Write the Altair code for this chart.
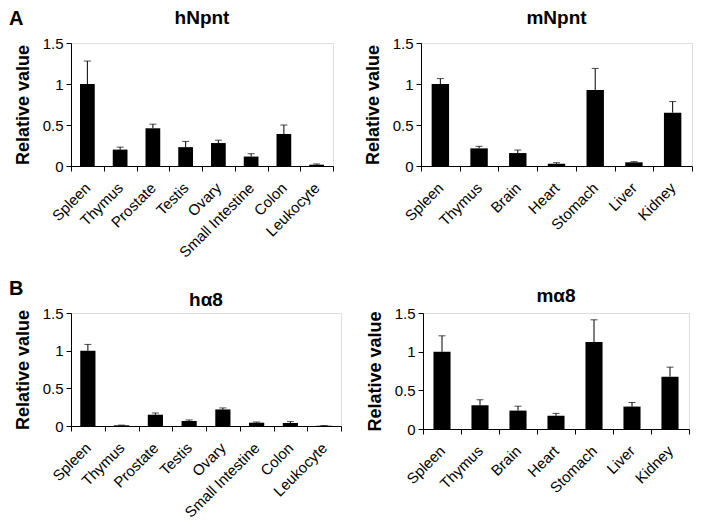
import altair as alt
import pandas as pd

FONT = "Liberation Sans"

h_tissues = ["Spleen", "Thymus", "Prostate", "Testis", "Ovary", "Small Intestine", "Colon", "Leukocyte"]
m_tissues = ["Spleen", "Thymus", "Brain", "Heart", "Stomach", "Liver", "Kidney"]

hnpnt_val = [1.0, 0.20, 0.46, 0.23, 0.28, 0.115, 0.39, 0.016]
hnpnt_up = [1.28, 0.23, 0.51, 0.30, 0.315, 0.15, 0.50, 0.025]

mnpnt_val = [1.0, 0.215, 0.158, 0.028, 0.928, 0.045, 0.65]
mnpnt_up = [1.066, 0.24, 0.195, 0.04, 1.19, 0.053, 0.786]

ha8_val = [1.0, 0.009, 0.15, 0.067, 0.22, 0.044, 0.04, 0.004]
ha8_up = [1.083, 0.012, 0.173, 0.08, 0.24, 0.053, 0.058, 0.006]

ma8_val = [1.0, 0.308, 0.238, 0.17, 1.126, 0.29, 0.677]
ma8_up = [1.205, 0.378, 0.295, 0.202, 1.412, 0.343, 0.80]

y_ticks = [0, 0.5, 1, 1.5]
panel_titles = ["hNpnt", "mNpnt", "h\u03b18", "m\u03b18"]
panel_letters = ["A", "B"]


def panel(cats, vals, ups, title, w, h, title_dy, letter=None, letter_dy=0):
    df = pd.DataFrame({"tissue": cats, "value": vals, "upper": ups})
    x = alt.X(
        "tissue:N",
        sort=cats,
        scale=alt.Scale(paddingInner=0, paddingOuter=0),
        axis=alt.Axis(
            title=None,
            labelAngle=-45,
            labelAlign="right",
            labelBaseline="middle",
            labelPadding=14,
            labelOverlap=False,
            tickBand="extent",
            tickSize=5,
            labelFontSize=15,
            labelColor="black",
            domainColor="black",
            tickColor="black",
        ),
    )
    y = alt.Y(
        "value:Q",
        scale=alt.Scale(domain=[0, 1.5], nice=False),
        axis=alt.Axis(
            title="Relative value",
            values=y_ticks,
            tickCount=10,
            format="~g",
            grid=False,
            labelOverlap=False,
            tickSize=5,
            labelPadding=3,
            labelFontSize=15,
            labelColor="black",
            titleFontSize=18,
            titleFontWeight="bold",
            titlePadding=10,
            titleColor="black",
            domainColor="black",
            tickColor="black",
        ),
    )
    base = alt.Chart(df)
    bars = base.mark_bar(color="black", width={"band": 0.45}).encode(x=x, y=y)
    rule = base.mark_rule(color="black", strokeWidth=1).encode(x=x, y="value:Q", y2="upper:Q")
    cap = base.mark_tick(color="black", thickness=1, size=7).encode(x=x, y="upper:Q")
    tdf = pd.DataFrame({"t": [title]})
    ttl = alt.Chart(tdf).mark_text(
        font=FONT, fontSize=19, fontWeight="bold", align="center", baseline="alphabetic", color="black"
    ).encode(x=alt.value(w / 2), y=alt.value(title_dy), text="t:N")
    layers = [bars, rule, cap, ttl]
    if letter is not None:
        ldf = pd.DataFrame({"t": [letter]})
        lt = alt.Chart(ldf).mark_text(
            font=FONT, fontSize=20, fontWeight="bold", align="left", baseline="alphabetic", color="black"
        ).encode(x=alt.value(-62), y=alt.value(letter_dy), text="t:N")
        layers.append(lt)
    return alt.layer(*layers).properties(width=w, height=h)


row1 = alt.hconcat(
    panel(h_tissues, hnpnt_val, hnpnt_up, panel_titles[0], 262, 123, -19, panel_letters[0], -18),
    panel(m_tissues, mnpnt_val, mnpnt_up, panel_titles[1], 271, 123, -19),
    spacing=88,
    bounds="flush",
)
row2 = alt.hconcat(
    panel(h_tissues, ha8_val, ha8_up, panel_titles[2], 270, 113, -7, panel_letters[1], -18),
    panel(m_tissues, ma8_val, ma8_up, panel_titles[3], 266, 116, -11),
    spacing=82,
    bounds="flush",
)

chart = alt.vconcat(row1, row2, spacing=17).properties(
    padding=0
).configure_view(stroke=None).configure(font=FONT)

chart.save("out.html", embed_options={"renderer": "svg", "actions": False})
